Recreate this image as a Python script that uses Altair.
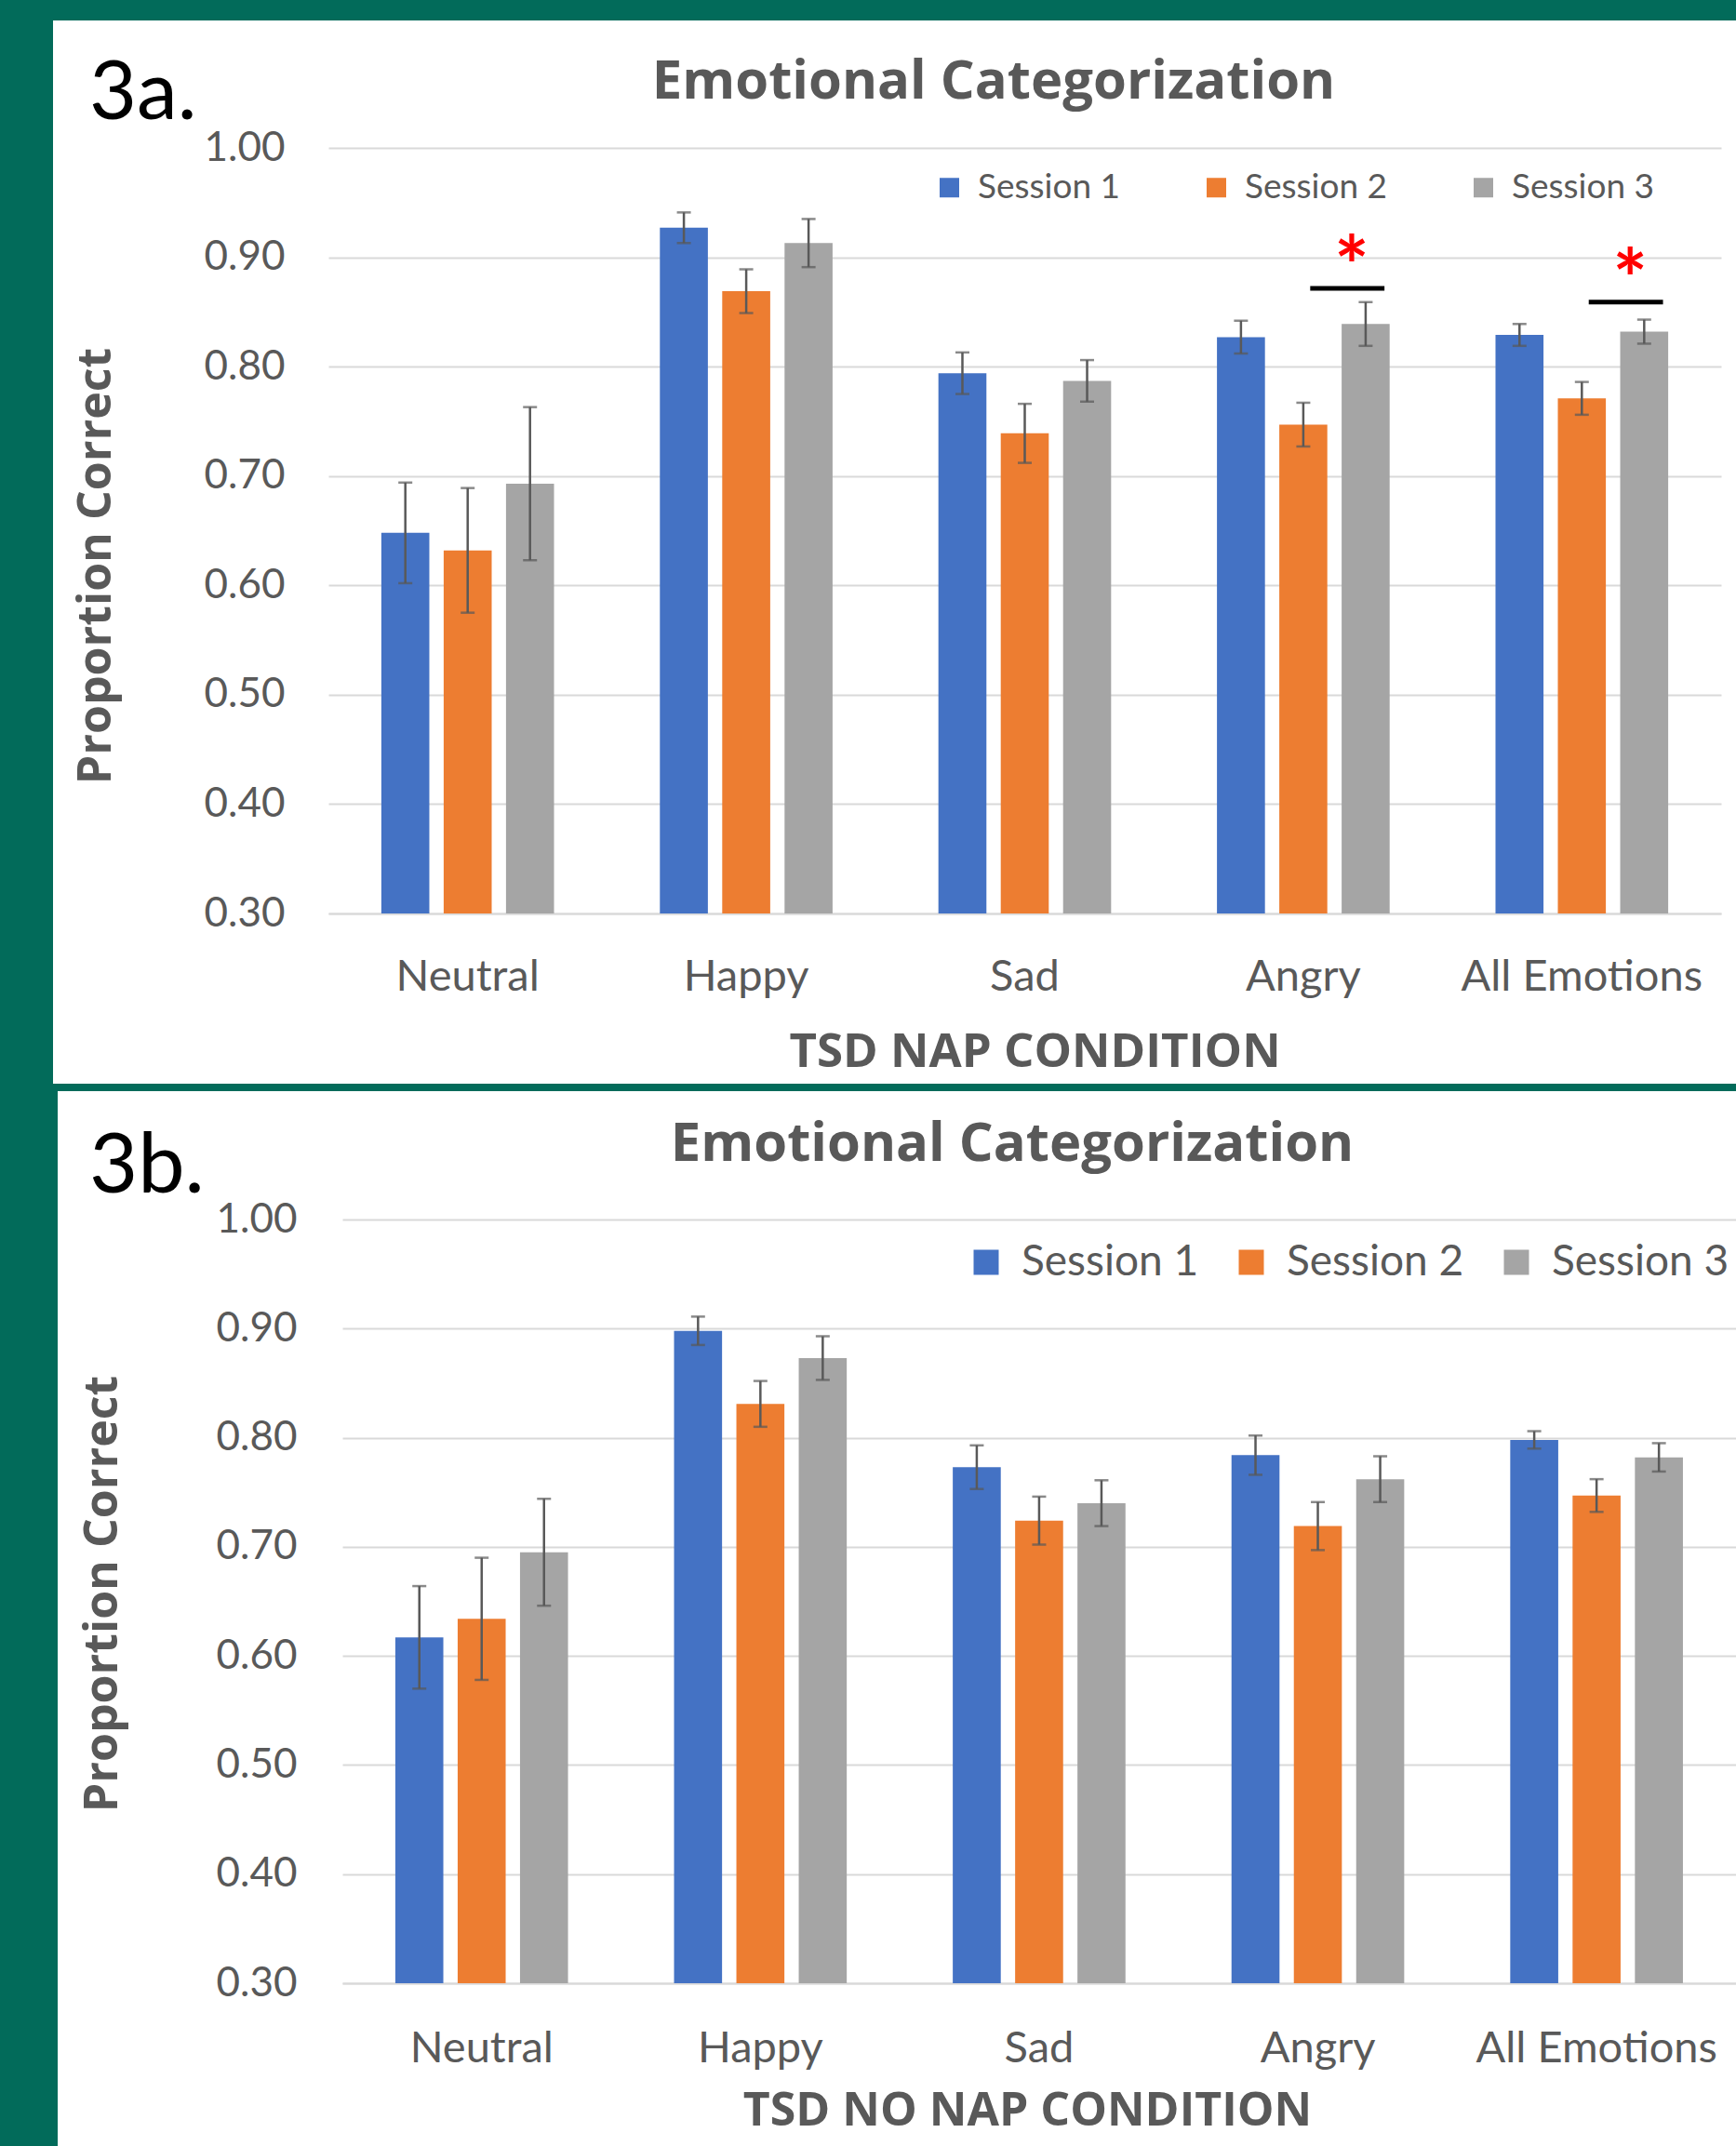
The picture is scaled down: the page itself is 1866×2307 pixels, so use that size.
import altair as alt
import pandas as pd

# ---------------- data ----------------
categories = ["Neutral", "Happy", "Sad", "Angry", "All Emotions"]
sessions = ["Session 1", "Session 2", "Session 3"]
session_colors = ["#4472C4", "#ED7D31", "#A5A5A5"]
y_ticks = [0.30, 0.40, 0.50, 0.60, 0.70, 0.80, 0.90, 1.00]

# 3a. TSD NAP CONDITION
nap_s1 = [0.648, 0.927, 0.794, 0.827, 0.829]
nap_s2 = [0.632, 0.869, 0.739, 0.747, 0.771]
nap_s3 = [0.693, 0.913, 0.787, 0.839, 0.832]
nap_e1 = [0.046, 0.014, 0.019, 0.015, 0.010]
nap_e2 = [0.057, 0.020, 0.027, 0.020, 0.015]
nap_e3 = [0.070, 0.022, 0.019, 0.020, 0.011]

# 3b. TSD NO NAP CONDITION
nonap_s1 = [0.617, 0.898, 0.773, 0.784, 0.798]
nonap_s2 = [0.634, 0.831, 0.724, 0.719, 0.747]
nonap_s3 = [0.695, 0.873, 0.740, 0.762, 0.782]
nonap_e1 = [0.047, 0.013, 0.020, 0.018, 0.008]
nonap_e2 = [0.056, 0.021, 0.022, 0.022, 0.015]
nonap_e3 = [0.049, 0.020, 0.021, 0.021, 0.013]

# significance markers (panel 3a)
sig_categories = ["Angry", "All Emotions"]
sig_line_y = [0.8715, 0.859]
sig_star_y = [0.9055, 0.8936]

# ---------------- style ----------------
GREEN = "#026B5A"
TXT = "#595959"
GRID = "#D9D9D9"
FONT = "Lato"
BOLD_FONT = "Open Sans"


def build_panel(s1, s2, s3, e1, e2, e3, tag, x_title, g, sig=False):
    rows = []
    for i, c in enumerate(categories):
        for j, (vals, errs) in enumerate(((s1, e1), (s2, e2), (s3, e3))):
            rows.append({"cat": c, "session": sessions[j], "value": vals[i],
                         "lo": round(vals[i] - errs[i], 4),
                         "hi": round(vals[i] + errs[i], 4)})
    df = pd.DataFrame(rows)
    one = pd.DataFrame({"k": [0]})

    x_axis = alt.Axis(labelAngle=0, labelFont=FONT, labelFontSize=g["xlab_fs"], labelLimit=0,
                      labelColor=TXT, labelPadding=g["xlab_pad"], ticks=False, tickSize=0,
                      domain=True, domainColor=GRID, domainWidth=2, grid=False,
                      titleFont=BOLD_FONT, titleFontWeight="bold", titleFontSize=g["xtitle_fs"],
                      titleColor=TXT, titleX=g["xtitle_x"], titleY=g["xtitle_y"],
                      titleBaseline="alphabetic", titleAlign="center", titleLimit=0)
    y_axis = alt.Axis(values=y_ticks, format=".2f", grid=True, gridColor=GRID, gridWidth=2,
                      domain=False, ticks=False, tickSize=0, labelFont=FONT,
                      labelFontSize=g["ylab_fs"], labelColor=TXT, labelPadding=g["ylab_pad"],
                      titleFont=BOLD_FONT, titleFontWeight="bold", titleFontSize=g["ytitle_fs"],
                      titleColor=TXT, titleX=g["ytitle_x"], titleY=g["ytitle_y"],
                      titleAngle=270, titleAlign="center", titleBaseline="middle",
                      titleLimit=0)

    def xenc(bp=None):
        kw = {}
        if bp is not None:
            kw["bandPosition"] = bp
        return alt.X("cat:N", sort=categories,
                     scale=alt.Scale(paddingInner=0.38, paddingOuter=0.19,
                                     range=[g["x0"], g["W"]]),
                     axis=x_axis, title=x_title, **kw)

    def yenc(field):
        return alt.Y(f"{field}:Q", scale=alt.Scale(domain=[0.3, 1.0], nice=False, zero=False),
                     axis=y_axis, title="Proportion Correct")

    xo = alt.XOffset("session:N", sort=sessions,
                     scale=alt.Scale(paddingInner=0.23, paddingOuter=0))

    bars = alt.Chart(df).mark_bar().encode(
        x=xenc(), xOffset=xo, y=yenc("value"), y2=alt.datum(0.3),
        color=alt.Color("session:N", sort=sessions,
                        scale=alt.Scale(domain=sessions, range=session_colors),
                        legend=alt.Legend(title=None, orient="none", legendX=g["leg_x"],
                                          legendY=g["leg_y"], direction="horizontal",
                                          columns=3, symbolType="square",
                                          symbolSize=g["sym_size"], symbolStrokeWidth=0,
                                          symbolOpacity=1, labelFont=FONT, labelLimit=0,
                                          labelFontSize=g["leg_fs"], labelColor=TXT,
                                          labelOffset=g["leg_off"],
                                          columnPadding=g["leg_colpad"], padding=0)))
    err = alt.Chart(df).mark_rule(color=TXT, strokeWidth=2.5).encode(
        x=xenc(), xOffset=xo, y=yenc("lo"), y2=alt.Y2("hi"))
    cap_lo = alt.Chart(df).mark_tick(color=TXT, thickness=2.5, size=15).encode(
        x=xenc(), xOffset=xo, y=yenc("lo"))
    cap_hi = alt.Chart(df).mark_tick(color=TXT, thickness=2.5, size=15).encode(
        x=xenc(), xOffset=xo, y=yenc("hi"))

    frame = []
    for (x0, x1, y0, y1) in g["strips"]:
        frame.append(alt.Chart(one).mark_rect(color=GREEN).encode(
            x=alt.value(x0), x2=alt.value(x1), y=alt.value(y0), y2=alt.value(y1)))

    tag_txt = alt.Chart(one).mark_text(text=tag, font=FONT, fontSize=g["tag_fs"], color="black",
                                       align="left", baseline="alphabetic").encode(
        x=alt.value(g["tag_x"]), y=alt.value(g["tag_y"]))
    title_txt = alt.Chart(one).mark_text(text="Emotional Categorization", font=BOLD_FONT,
                                         fontWeight="bold", fontSize=g["title_fs"], color=TXT,
                                         align="center", baseline="alphabetic").encode(
        x=alt.value(g["title_x"]), y=alt.value(g["title_y"]))

    layers = frame + [bars, err, cap_lo, cap_hi]
    if sig:
        sig_df = pd.DataFrame({"cat": sig_categories, "line_y": sig_line_y,
                               "star_y": sig_star_y})
        sig_line = alt.Chart(sig_df).mark_rule(color="black", strokeWidth=5).encode(
            x=xenc(0.54), x2=alt.X2(field="cat", bandPosition=0.97), y=yenc("line_y"))
        star = alt.Chart(sig_df).mark_text(text="*", color="#FF0000", fontSize=88,
                                           fontWeight="bold", font=FONT, baseline="middle",
                                           dy=22).encode(
            x=xenc(0.78), y=yenc("star_y"))
        layers += [sig_line, star]
    layers += [tag_txt, title_txt]
    return alt.layer(*layers).properties(width=g["W"], height=g["H"])


geom_a = dict(W=1497, x0=0, H=823, xlab_fs=47, xlab_pad=45, xtitle_fs=51, xtitle_x=759,
              xtitle_y=164,
              ylab_fs=44, ylab_pad=47, ytitle_fs=50, ytitle_x=-250, ytitle_y=449,
              leg_x=649, leg_y=24, sym_size=441, leg_fs=37, leg_off=12, leg_colpad=85,
              tag_fs=88, tag_x=-257, tag_y=-31, title_fs=58, title_x=715, title_y=-53,
              strips=[(-353, 1513, -159, -137), (-353, -296, -159, 1014),
                      (-353, 1513, 1006, 1014)])
geom_b = dict(W=1513, x0=15, H=821, xlab_fs=47, xlab_pad=47, xtitle_fs=50, xtitle_x=751,
              xtitle_y=152,
              ylab_fs=44, ylab_pad=34, ytitle_fs=50, ytitle_x=-243, ytitle_y=402,
              leg_x=684, leg_y=23, sym_size=729, leg_fs=46, leg_off=15, leg_colpad=33,
              tag_fs=90, tag_x=-257, tag_y=-29, title_fs=58, title_x=735, title_y=-63,
              strips=[(-353, -291, -138, 996)])

panel_a = build_panel(nap_s1, nap_s2, nap_s3, nap_e1, nap_e2, nap_e3, "3a.",
                      "TSD NAP CONDITION", geom_a, sig=True)
panel_b = build_panel(nonap_s1, nonap_s2, nonap_s3, nonap_e1, nonap_e2, nonap_e3, "3b.",
                      "TSD NO NAP CONDITION", geom_b)

chart = alt.vconcat(panel_a, panel_b, spacing=0).resolve_scale(
    color="independent", x="independent", y="independent"
).properties(background="white", padding=0).configure_view(stroke=None)

chart.save("out.html", embed_options={"renderer": "svg", "actions": False})
